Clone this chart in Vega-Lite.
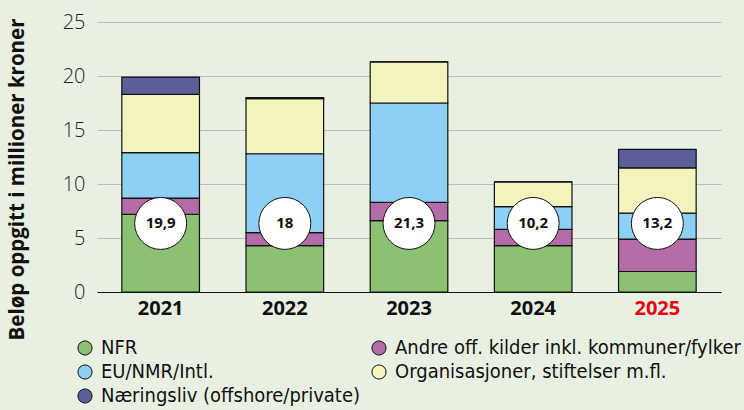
{
  "$schema": "https://vega.github.io/schema/vega-lite/v6.json",
  "width": 624,
  "height": 270,
  "autosize": {"type": "none"},
  "padding": {"left": 97, "top": 22, "right": 23, "bottom": 118},
  "background": "#E8F0E1",
  "config": {
    "view": {"stroke": null},
    "font": "Open Sans",
    "locale": {"number": {"decimal": ",", "thousands": " ", "grouping": [3], "currency": ["", " kr"]}}
  },
  "data": {
    "values": [
      {"year": "2021", "kilde": "NFR", "order": 1, "value": 7.2},
      {"year": "2021", "kilde": "Andre off. kilder inkl. kommuner/fylker", "order": 2, "value": 1.5},
      {"year": "2021", "kilde": "EU/NMR/Intl.", "order": 3, "value": 4.2},
      {"year": "2021", "kilde": "Organisasjoner, stiftelser m.fl.", "order": 4, "value": 5.4},
      {"year": "2021", "kilde": "Næringsliv (offshore/private)", "order": 5, "value": 1.6},
      {"year": "2022", "kilde": "NFR", "order": 1, "value": 4.3},
      {"year": "2022", "kilde": "Andre off. kilder inkl. kommuner/fylker", "order": 2, "value": 1.2},
      {"year": "2022", "kilde": "EU/NMR/Intl.", "order": 3, "value": 7.3},
      {"year": "2022", "kilde": "Organisasjoner, stiftelser m.fl.", "order": 4, "value": 5.1},
      {"year": "2022", "kilde": "Næringsliv (offshore/private)", "order": 5, "value": 0.1},
      {"year": "2023", "kilde": "NFR", "order": 1, "value": 6.6},
      {"year": "2023", "kilde": "Andre off. kilder inkl. kommuner/fylker", "order": 2, "value": 1.7},
      {"year": "2023", "kilde": "EU/NMR/Intl.", "order": 3, "value": 9.2},
      {"year": "2023", "kilde": "Organisasjoner, stiftelser m.fl.", "order": 4, "value": 3.8},
      {"year": "2023", "kilde": "Næringsliv (offshore/private)", "order": 5, "value": 0},
      {"year": "2024", "kilde": "NFR", "order": 1, "value": 4.3},
      {"year": "2024", "kilde": "Andre off. kilder inkl. kommuner/fylker", "order": 2, "value": 1.5},
      {"year": "2024", "kilde": "EU/NMR/Intl.", "order": 3, "value": 2.1},
      {"year": "2024", "kilde": "Organisasjoner, stiftelser m.fl.", "order": 4, "value": 2.3},
      {"year": "2024", "kilde": "Næringsliv (offshore/private)", "order": 5, "value": 0},
      {"year": "2025", "kilde": "NFR", "order": 1, "value": 1.9},
      {"year": "2025", "kilde": "Andre off. kilder inkl. kommuner/fylker", "order": 2, "value": 3.0},
      {"year": "2025", "kilde": "EU/NMR/Intl.", "order": 3, "value": 2.4},
      {"year": "2025", "kilde": "Organisasjoner, stiftelser m.fl.", "order": 4, "value": 4.2},
      {"year": "2025", "kilde": "Næringsliv (offshore/private)", "order": 5, "value": 1.7}
    ]
  },
  "encoding": {
    "x": {
      "field": "year",
      "type": "nominal",
      "scale": {"paddingInner": 0.375, "paddingOuter": 0.2},
      "axis": {
        "title": null,
        "labelAngle": 0,
        "labelFontSize": 20,
        "labelFontWeight": "bold",
        "labelColor": {"condition": {"test": "datum.value == '2025'", "value": "#E30613"}, "value": "#111111"},
        "labelPadding": 6,
        "ticks": false,
        "domainColor": "#111111",
        "domainWidth": 1.2,
        "grid": false
      }
    }
  },
  "layer": [
    {
      "mark": {"type": "bar", "stroke": "#111111", "strokeWidth": 1.2},
      "encoding": {
        "y": {
          "field": "value",
          "type": "quantitative",
          "stack": "zero",
          "scale": {"domain": [0, 25], "nice": false},
          "axis": {
            "title": "Beløp oppgitt i millioner kroner",
            "titleFontSize": 20.5,
            "titleFontWeight": "bold",
            "titleColor": "#111111",
            "titleX": -70,
            "titleY": 157,
            "titleAngle": -90,
            "titleAlign": "center",
            "titleBaseline": "bottom",
            "values": [0, 5, 10, 15, 20, 25],
            "labelFontSize": 20,
            "labelColor": "#222222",
            "labelFontWeight": 300,
            "labelPadding": 12,
            "ticks": false,
            "domain": false,
            "gridColor": "#BDBDBD",
            "gridWidth": 1.2
          }
        },
        "order": {"field": "order", "type": "quantitative"},
        "color": {
          "field": "kilde",
          "type": "nominal",
          "scale": {
            "domain": ["NFR", "EU/NMR/Intl.", "Næringsliv (offshore/private)", "Andre off. kilder inkl. kommuner/fylker", "Organisasjoner, stiftelser m.fl."],
            "range": ["#8CC072", "#8DD0F3", "#5A5E99", "#B46CA8", "#F5F3BD"]
          },
          "legend": {
            "title": null,
            "orient": "none",
            "legendX": -22,
            "legendY": 316,
            "columns": 2,
            "columnPadding": 8,
            "rowPadding": 4,
            "symbolType": "circle",
            "symbolSize": 200,
            "symbolStrokeColor": "#111111",
            "symbolStrokeWidth": 1,
            "symbolOpacity": 1,
            "labelFontSize": 20,
            "labelFont": "DejaVu Sans Condensed",
            "labelColor": "#111111",
            "labelLimit": 400,
            "labelOffset": 6
          }
        }
      }
    },
    {
      "transform": [{"aggregate": [{"op": "sum", "field": "value", "as": "total"}], "groupby": ["year"]}],
      "mark": {"type": "point", "filled": true, "fill": "white", "stroke": "#111111", "strokeWidth": 1, "opacity": 1, "size": 2700},
      "encoding": {"y": {"datum": 6.35}}
    },
    {
      "transform": [{"aggregate": [{"op": "sum", "field": "value", "as": "total"}], "groupby": ["year"]}],
      "mark": {"type": "text", "fontSize": 15, "fontWeight": "bold", "color": "#111111"},
      "encoding": {
        "y": {"datum": 6.35},
        "text": {"field": "total", "type": "quantitative", "format": ".1~f"}
      }
    }
  ]
}
